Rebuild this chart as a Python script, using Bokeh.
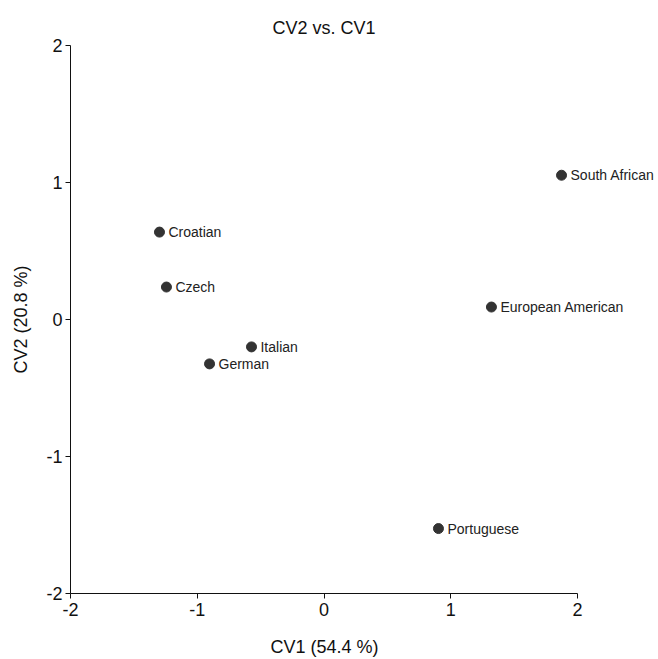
from bokeh.plotting import figure
from bokeh.models import ColumnDataSource, Range1d, FixedTicker, LabelSet
from bokeh.core.properties import value
from bokeh.embed import file_html
from bokeh.resources import INLINE

# Data
groups = ["South African", "Croatian", "Czech", "European American",
          "Italian", "German", "Portuguese"]
cv1 = [1.874, -1.298, -1.243, 1.321, -0.572, -0.903, 0.903]
cv2 = [1.053, 0.638, 0.237, 0.091, -0.200, -0.324, -1.526]
ticks = [-2, -1, 0, 1, 2]
tick_labels = ["-2", "-1", "0", "1", "2"]
x_title = "CV1 (54.4 %)"
y_title = "CV2 (20.8 %)"
main_title = "CV2 vs. CV1"

FONT = "Liberation Sans"

W, H = 658, 659
LEFT, TOP, BOTTOM = 70, 45, 65
AXIS_PX = 507            # pixel length of the -2..2 x axis
frame_w = W - LEFT
x_end = -2 + 4 * frame_w / AXIS_PX   # extra blank room on the right for labels

src = ColumnDataSource(data=dict(x=cv1, y=cv2, name=groups))

p = figure(width=W, height=H, output_backend="svg", toolbar_location=None,
           x_range=Range1d(-2, x_end), y_range=Range1d(-2, 2),
           min_border_left=LEFT, min_border_right=0,
           min_border_top=TOP, min_border_bottom=BOTTOM,
           title=main_title)

p.title.align = "left"
p.title.offset = 202
p.title.text_font = FONT
p.title.text_font_size = "18px"
p.title.text_font_style = "normal"
p.title.text_color = "#111111"
p.title.standoff = 15

p.outline_line_color = None
p.grid.visible = False
p.background_fill_color = "white"
p.border_fill_color = "white"

overrides = {t: l for t, l in zip(ticks, tick_labels)}
for ax in (p.xaxis[0], p.yaxis[0]):
    ax.ticker = FixedTicker(ticks=ticks)
    ax.bounds = (-2, 2)
    ax.major_label_overrides = overrides
    ax.axis_label_text_font = FONT
    ax.axis_label_text_font_size = "18px"
    ax.axis_label_text_font_style = "normal"
    ax.axis_label_text_color = "#111111"
    ax.major_label_text_font = FONT
    ax.major_label_text_font_size = "18px"
    ax.major_label_text_color = "#111111"
    ax.axis_line_color = "#111111"
    ax.major_tick_line_color = "#111111"
    ax.major_tick_out = 5
    ax.major_tick_in = 0
    ax.minor_tick_line_color = None

p.yaxis[0].axis_label = y_title
# the frame extends right of x=2 (room for point labels); pad the label on
# the right with non-breaking spaces so it stays centred under the -2..2 axis
p.xaxis[0].axis_label = x_title + "\u00a0" * 16
p.xaxis[0].major_label_standoff = 4
p.yaxis[0].major_label_standoff = 3
p.xaxis[0].axis_label_standoff = 18
p.yaxis[0].axis_label_standoff = 12

p.scatter("x", "y", source=src, size=10, fill_color="#333333",
          line_color="#333333")
labels = LabelSet(x="x", y="y", text="name", source=src, x_offset=9,
                  text_baseline="middle", text_align="left",
                  text_font=value(FONT), text_font_size=value("14px"),
                  text_color=value("#222222"))
p.add_layout(labels)

open("out.html", "w").write(file_html(p, INLINE))
